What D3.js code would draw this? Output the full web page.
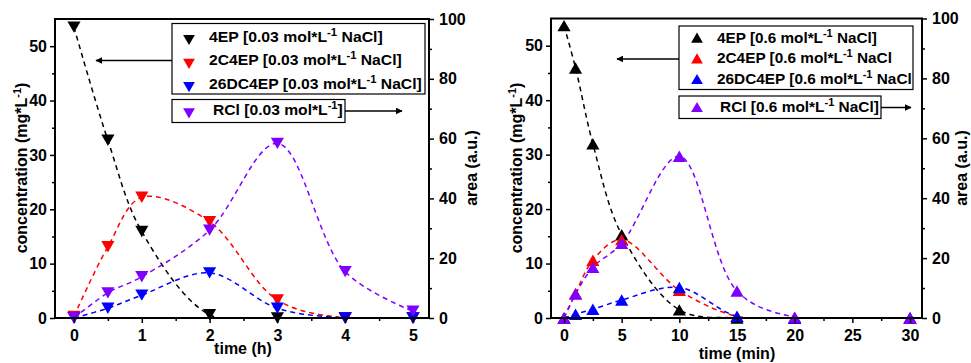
<!DOCTYPE html>
<html>
<head>
<meta charset="utf-8">
<script src="https://cdn.jsdelivr.net/npm/d3@7"></script>
<style>
  body { margin: 0; background: #fff; }
  svg { display: block; font-family: Arial, "Liberation Sans", sans-serif; font-weight: bold; }
  .tick text { font-size: 16px; font-weight: bold; fill: #000; }
  .tick line { stroke: #000; stroke-width: 1.5; }
</style>
</head>
<body>
<svg id="chart" width="971" height="363"></svg>
<script>
// left panel, 0.03 mol/L NaCl, time in hours
var timeH = [0, 0.5, 1, 2, 3, 4, 5];
var ep4Low = [53.5, 32.7, 15.9, 0.6, 0, 0, 0];
var c2ep4Low = [0.3, 13.1, 22.2, 17.7, 3.3, 0, 0];
var dc26ep4Low = [0, 1.8, 4.2, 8.3, 1.8, 0, 0];
var rclLow = [0, 8.4, 13.8, 29.4, 58.4, 15.5, 2.3];

// right panel, 0.6 mol/L NaCl, time in minutes
var timeMin = [0, 1, 2.5, 5, 10, 15, 20, 30];
var ep4High = [53.7, 45.9, 32.0, 15.3, 1.5, 0, 0, 0];
var c2ep4High = [0, 4.5, 10.6, 14.4, 5.1, 0.3, 0, 0];
var dc26ep4High = [0, 0.7, 1.6, 3.3, 5.6, 0.3, 0, 0];
var rclHigh = [0, 8.0, 16.9, 24.9, 54.0, 9.0, 0.3, 0];

var hTicks = [0, 1, 2, 3, 4, 5];
var hMinor = [0.5, 1.5, 2.5, 3.5, 4.5];
var minTicks = [0, 5, 10, 15, 20, 25, 30];
var minMinor = [2.5, 7.5, 12.5, 17.5, 22.5, 27.5];
var concTicks = [0, 10, 20, 30, 40, 50];
var concMinor = [5, 15, 25, 35, 45];
var areaTicks = [0, 20, 40, 60, 80, 100];
var areaMinor = [10, 30, 50, 70, 90];

var seriesNames = ['4EP', '2C4EP', '26DC4EP', 'RCl'];
var colors = ['#000000', '#ff0000', '#0000ff', '#8000ff'];

var svg = d3.select('#chart');

svg.append('defs').append('marker')
    .attr('id', 'arrow')
    .attr('viewBox', '0 0 10 10')
    .attr('refX', 9).attr('refY', 5)
    .attr('markerWidth', 7).attr('markerHeight', 7)
    .attr('markerUnits', 'userSpaceOnUse')
    .attr('orient', 'auto')
  .append('path')
    .attr('d', 'M0,0L10,5L0,10z')
    .attr('fill', '#000');

function legendLabel(sel, name, conc, tail) {
    sel.append('tspan').text(name + ' [' + conc + ' mol*L');
    sel.append('tspan').attr('font-size', 10).attr('dy', -6).text('-1');
    sel.append('tspan').attr('dy', 6).text(tail);
}

// triangles are placed by their box centre, not the centroid
function triShift(size, down) {
    var h = Math.sqrt(size * 4 / Math.sqrt(3)) * Math.sqrt(3) / 2;
    return (down ? -1 : 1) * h / 6;
}

function drawPanel(p) {
    var g = svg.append('g');

    var x = d3.scaleLinear().domain(p.xDomain).range([p.left, p.right]);
    var yL = d3.scaleLinear().domain([0, 55]).range([p.bottom, p.top]);
    var yR = d3.scaleLinear().domain([0, 100]).range([p.bottom, p.top]);

    var clipId = 'clip' + p.id;
    svg.select('defs').append('clipPath').attr('id', clipId)
      .append('rect')
        .attr('x', p.left).attr('y', p.top)
        .attr('width', p.right - p.left).attr('height', p.bottom - p.top);

    var series = p.values.map(function(v, i) {
        return { vals: v, color: colors[i], y: i == 3 ? yR : yL };
    });

    var plot = g.append('g').attr('clip-path', 'url(#' + clipId + ')');

    series.forEach(function(s) {
        var line = d3.line()
            .x(function(d, i) { return x(p.time[i]); })
            .y(function(d) { return s.y(d); })
            .curve(d3.curveCatmullRom.alpha(0.5));
        plot.append('path')
            .attr('d', line(s.vals))
            .attr('fill', 'none')
            .attr('stroke', s.color)
            .attr('stroke-width', 1.5)
            .attr('stroke-dasharray', '5,4');
    });

    var mSize = 75;
    var sym = d3.symbol(d3.symbolTriangle, mSize);
    var dy = triShift(mSize, p.down);
    series.forEach(function(s) {
        g.selectAll(null)
            .data(s.vals)
          .enter().append('path')
            .attr('d', sym)
            .attr('fill', s.color)
            .attr('transform', function(d, i) {
                return 'translate(' + x(p.time[i]) + ',' + (s.y(d) + dy) + ')' + (p.down ? ' rotate(180)' : '');
            });
    });

    // axes
    var ax = g.append('g');
    ax.append('g').attr('transform', 'translate(' + p.left + ',0)')
        .call(d3.axisLeft(yL).tickValues(concTicks).tickSize(5).tickPadding(3));
    ax.append('g').attr('transform', 'translate(' + p.left + ',0)')
        .call(d3.axisLeft(yL).tickValues(concMinor).tickSize(3).tickFormat(''));
    ax.append('g').attr('transform', 'translate(' + p.right + ',0)')
        .call(d3.axisRight(yR).tickValues(areaTicks).tickSize(5).tickPadding(5));
    ax.append('g').attr('transform', 'translate(' + p.right + ',0)')
        .call(d3.axisRight(yR).tickValues(areaMinor).tickSize(3).tickFormat(''));
    ax.append('g').attr('transform', 'translate(0,' + p.bottom + ')')
        .call(d3.axisBottom(x).tickValues(p.xTicks).tickSize(5).tickPadding(7).tickFormat(d3.format('d')));
    ax.append('g').attr('transform', 'translate(0,' + p.bottom + ')')
        .call(d3.axisBottom(x).tickValues(p.xMinor).tickSize(3).tickFormat(''));
    ax.selectAll('.domain').remove();
    ax.selectAll('.tick text').attr('font-family', null).attr('font-size', null);

    g.append('rect')
        .attr('x', p.left).attr('y', p.top)
        .attr('width', p.right - p.left).attr('height', p.bottom - p.top)
        .attr('fill', 'none').attr('stroke', '#000').attr('stroke-width', 2);

    // axis titles
    var yt = g.append('text')
        .attr('transform', 'translate(' + p.yTitleX + ',168) rotate(-90)')
        .attr('text-anchor', 'middle').attr('font-size', 16);
    yt.append('tspan').text('concentration (mg*L');
    yt.append('tspan').attr('font-size', 11).attr('dy', -6).text('-1');
    yt.append('tspan').attr('dy', 6).text(')');

    g.append('text')
        .attr('transform', 'translate(' + p.rTitleX + ',168) rotate(-90)')
        .attr('text-anchor', 'middle').attr('font-size', 16)
        .text('area (a.u.)');

    g.append('text')
        .attr('x', p.xTitleX).attr('y', p.xTitleY)
        .attr('text-anchor', 'middle').attr('font-size', 16)
        .text(p.xTitle);

    // legend boxes and arrows
    var L = p.legend;
    g.append('line')
        .attr('x1', L.x0).attr('x2', L.arrowL)
        .attr('y1', L.arrowLY).attr('y2', L.arrowLY)
        .attr('stroke', '#000').attr('stroke-width', 1.5)
        .attr('marker-end', 'url(#arrow)');
    g.append('line')
        .attr('x1', L.x2).attr('x2', L.arrowR)
        .attr('y1', L.arrowRY).attr('y2', L.arrowRY)
        .attr('stroke', '#000').attr('stroke-width', 1.5)
        .attr('marker-end', 'url(#arrow)');

    g.append('rect')
        .attr('x', L.x0).attr('y', L.y0)
        .attr('width', L.x1 - L.x0).attr('height', L.y1 - L.y0)
        .attr('fill', '#fff').attr('stroke', '#000').attr('stroke-width', 1.2);
    g.append('rect')
        .attr('x', L.x0).attr('y', L.y2)
        .attr('width', L.x2 - L.x0).attr('height', L.y3 - L.y2)
        .attr('fill', '#fff').attr('stroke', '#000').attr('stroke-width', 1.2);

    var lSize = 60;
    var legSym = d3.symbol(d3.symbolTriangle, lSize);
    var ldy = triShift(lSize, p.down);
    seriesNames.forEach(function(name, i) {
        var base = L.rows[i];
        g.append('path')
            .attr('d', legSym)
            .attr('fill', colors[i])
            .attr('transform', 'translate(' + L.markX + ',' + (base + L.markDy + ldy) + ')' + (p.down ? ' rotate(180)' : ''));
        var tx = i == 3 ? L.textX3 : L.textX;
        var t = g.append('text')
            .attr('font-size', 14);
        legendLabel(t, name, p.conc, p.tails[i]);
        // the source text is stretched sideways, so fit it to the measured width
        var w = t.node().getComputedTextLength();
        var sx = L.widths[i] / w;
        t.attr('transform', 'translate(' + tx + ',' + base + ') scale(' + sx + ',1)');
    });
}

drawPanel({
    id: 'L', time: timeH, values: [ep4Low, c2ep4Low, dc26ep4Low, rclLow],
    xDomain: [-0.28, 5.236], xTicks: hTicks, xMinor: hMinor,
    left: 55, right: 429, top: 19, bottom: 318, down: true,
    yTitleX: 27, rTitleX: 477, xTitleX: 243, xTitleY: 354, xTitle: 'time (h)',
    conc: '0.03', tails: [' NaCl]', ' NaCl]', ' NaCl]', ']'],
    legend: {
        x0: 172, x1: 425, y0: 23.5, y1: 94, x2: 345, y2: 99.5, y3: 122.5,
        rows: [41.5, 65.3, 88.7, 114.8], markX: 189, markDy: -1.5, textX: 209, textX3: 213,
        widths: [174, 193, 213, 130],
        arrowL: 96, arrowLY: 60.5, arrowR: 402, arrowRY: 111
    }
});

drawPanel({
    id: 'R', time: timeMin, values: [ep4High, c2ep4High, dc26ep4High, rclHigh],
    xDomain: [-1.13, 31.04], xTicks: minTicks, xMinor: minMinor,
    left: 551, right: 922, top: 18.5, bottom: 318, down: false,
    yTitleX: 522, rTitleX: 967, xTitleX: 737, xTitleY: 359, xTitle: 'time (min)',
    conc: '0.6', tails: [' NaCl]', ' NaCl', ' NaCl', ' NaCl]'],
    legend: {
        x0: 679, x1: 913, y0: 26, y1: 89.5, x2: 881, y2: 96, y3: 118.5,
        rows: [42.7, 63.3, 84, 112], markX: 697, markDy: -5, textX: 717, textX3: 720,
        widths: [160, 175, 195, 159],
        arrowL: 617, arrowLY: 59, arrowR: 911, arrowRY: 107.5
    }
});
</script>
</body>
</html>
